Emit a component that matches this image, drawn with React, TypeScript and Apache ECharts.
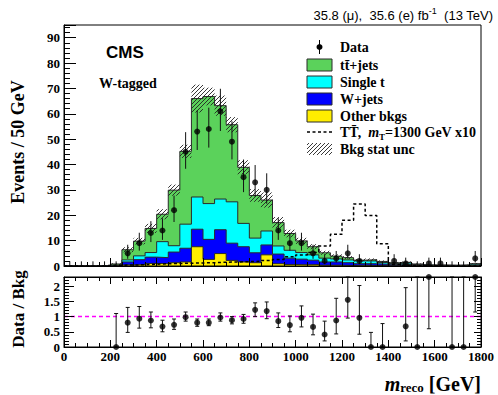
import React, { useEffect, useRef } from 'react';
import * as echarts from 'echarts';

// ---------- data (bins of 50 GeV, low edges) ----------
const binLow = [0, 50, 100, 150, 200, 250, 300, 350, 400, 450, 500, 550, 600, 650, 700, 750, 800, 850,
  900, 950, 1000, 1050, 1100, 1150, 1200, 1250, 1300, 1350, 1400, 1450, 1500, 1550, 1600, 1650, 1700, 1750];
const binWidth = 50;
const xMax = 1800;

const otherBkgs = [0, 0, 0, 0, 0.1, 0.4, 0.6, 1.0, 0.9, 1.3, 1.6, 7.6, 2.6, 4.9, 2.2, 1.6, 1.3, 4.4,
  0.9, 0.6, 0.5, 0.6, 0.3, 0.3, 0.2, 0.3, 0.2, 0.1, 0.1, 0.1, 0.05, 0.05, 0, 0, 0.05, 0.05];
const wJets = [0, 0, 0, 0.05, 0.15, 1.2, 1.9, 2.5, 2.4, 4.2, 5.4, 6.9, 7.9, 9.4, 6.8, 6.0, 3.9, 3.9,
  3.8, 2.5, 2.2, 1.7, 1.3, 1.3, 1.1, 0.6, 0.7, 0.6, 0.4, 0.5, 0.25, 0.15, 0.15, 0.1, 0.15, 0.35];
const singleT = [0, 0, 0, 0.05, 0.15, 0.8, 1.5, 1.8, 6.3, 2.5, 9.5, 12.7, 14.1, 12.1, 16.3, 9.2, 5.8, 5.5,
  3.2, 3.1, 2.6, 2.1, 1.5, 1.2, 1.1, 1.1, 1.1, 0.7, 0.5, 0.6, 0.3, 0.15, 0.15, 0.15, 0.15, 0.3];
const ttJets = [0, 0, 0, 0.1, 0.4, 4.0, 5.8, 9.5, 10.8, 21.9, 28.7, 38.8, 42.2, 36.8, 30.4, 22.1, 16.8, 12.2,
  9.2, 6.6, 4.6, 3.2, 2.1, 1.1, 0.9, 0.3, 0.5, 0.4, 0.3, 0.3, 0.2, 0.05, 0.1, 0.05, 0.05, 0.2];
const bkgStatUnc = [0, 0, 0, 0.1, 0.3, 1.0, 1.3, 1.8, 2.0, 2.2, 2.6, 5.5, 3.5, 4.0, 3.0, 2.8, 2.5, 3.0,
  2.2, 1.5, 1.2, 1.0, 0.8, 0.7, 0.6, 0.5, 0.5, 0.4, 0.3, 0.3, 0.2, 0.1, 0.1, 0.1, 0.1, 0.3];
const signalTT1300x10 = [0, 0, 0, 0.2, 0.3, 0.4, 0.5, 0.7, 0.9, 1.0, 1.1, 1.2, 1.3, 1.5, 1.6, 1.7, 1.9, 2.2,
  2.6, 3.6, 4.3, 5.3, 7.9, 12.5, 18.0, 24.4, 19.9, 8.8, 0.6, 0.2, 0.1, 0.1, 0, 0, 0, 0];

const dataCounts = [0, 0, 0, 0, 0, 5, 9, 13, 14, 22, 45, 53, 54, 61, 49, 35, 33, 30,
  14, 9, 9, 5, 2, 3, 5, 2, 0, 0, 2, 1, 0, 1, 1, 0, 0, 3];
const dataErrLo = [0, 0, 0, 0, 0, 2.16, 2.94, 3.56, 3.70, 4.66, 6.68, 7.26, 7.33, 7.79, 6.98, 5.88, 5.71, 5.45,
  3.70, 2.94, 2.94, 2.16, 1.29, 1.63, 2.16, 1.29, 0, 0, 1.29, 0.83, 0, 0.83, 0.83, 0, 0, 1.63];
const dataErrHi = [1.84, 1.84, 1.84, 1.84, 1.84, 3.38, 4.11, 4.67, 4.80, 5.76, 7.76, 8.33, 8.40, 8.86, 8.05, 6.97, 6.80, 6.54,
  4.80, 4.11, 4.11, 3.38, 2.64, 2.92, 3.38, 2.64, 1.84, 1.84, 2.64, 2.30, 1.84, 2.30, 2.30, 1.84, 1.84, 2.92];

const ratio = [null, null, null, null, 0, 0.8, 0.93, 0.87, 0.67, 0.73, 0.98, 0.8, 0.8, 0.97, 0.88, 0.92, 1.22, 1.18,
  0.85, 0.72, 0.96, 0.66, 0.41, 0.87, 1.55, 0.96, 0, 0, null, 0.68, 0, 2.3, null, 0, 0, 2.3];
const ratioLo = [null, null, null, null, 0, 0.48, 0.62, 0.63, 0.5, 0.58, 0.85, 0.68, 0.7, 0.85, 0.76, 0.78, 1.0, 0.93,
  0.64, 0.5, 0.66, 0.4, 0.2, 0.43, 0.95, 0.42, 0, 0, null, 0.2, 0, 0.6, null, 0, 0, 1.15];
const ratioHi = [null, null, null, null, 1.1, 1.3, 1.33, 1.15, 0.88, 0.92, 1.15, 0.92, 0.92, 1.12, 1.0, 1.07, 1.45, 1.48,
  1.12, 1.02, 1.35, 1.08, 0.85, 1.6, 2.3, 2.02, 0.48, 0.77, null, 1.95, 2.3, 2.3, null, 2.3, 2.3, 2.3];

const mainYTicks = { min: 0, max: 95, interval: 10 };
const ratioYTicks = { min: 0, max: 2.3, interval: 0.5 };
const xTicks = { min: 0, max: xMax, interval: 200 };

// ---------- helpers ----------
const SERIF = '"Liberation Serif", "DejaVu Serif", serif';
const SANS = '"Liberation Sans", Arial, sans-serif';
const C_TT = '#5bd25b';
const C_ST = '#00ffff';
const C_WJ = '#0000ff';
const C_OT = '#ffee00';
const OUTLINE = '#2a2a2a';
const GZ = 100;

const stepData = (vals: number[]) => [
  ...binLow.map((x, i) => [x, vals[i]]),
  [xMax, vals[vals.length - 1]],
];
const center = (i: number) => binLow[i] + binWidth / 2;

function hatchLines(L: number, T: number, R: number, B: number, s: number, color: string, z?: number) {
  const children: any[] = [];
  const cStart = Math.ceil((L + T) / s) * s;
  for (let c = cStart; c <= R + B; c += s) {
    const xa = Math.max(L, c - B);
    const xb = Math.min(R, c - T);
    if (xb - xa > 0.3) {
      const el: any = {
        type: 'line',
        shape: { x1: xa, y1: c - xa, x2: xb, y2: c - xb },
        style: { stroke: color, lineWidth: 0.9 },
      };
      if (z !== undefined) el.z = z;
      children.push(el);
    }
  }
  return children;
}

function buildOption(): any {
  // cumulative stacks (bottom to top: other, W+jets, single t, tt)
  const cumOther = binLow.map((_, i) => otherBkgs[i]);
  const cumW = binLow.map((_, i) => cumOther[i] + wJets[i]);
  const cumST = binLow.map((_, i) => cumW[i] + singleT[i]);
  const total = binLow.map((_, i) => cumST[i] + ttJets[i]);

  const hatchData = binLow
    .map((x, i) => [x, x + binWidth, Math.max(0, total[i] - bkgStatUnc[i]), total[i] + bkgStatUnc[i]])
    .filter((_, i) => bkgStatUnc[i] > 0);
  const dataErr = binLow.map((_, i) => [center(i), dataCounts[i] - dataErrLo[i], dataCounts[i] + dataErrHi[i]]);
  const dataPts = binLow.map((_, i) => [center(i), dataCounts[i]]).filter((_, i) => dataCounts[i] > 0);
  const ratioPts = binLow.map((_, i) => [center(i), ratio[i]]).filter((_, i) => ratio[i] !== null);
  const ratioErr = binLow.map((_, i) => [center(i), ratioLo[i], ratioHi[i]]).filter((_, i) => ratio[i] !== null);

  const axisLineBlack = { show: true, onZero: false, lineStyle: { color: '#000', width: 1 } };
  const labelStyle = { fontFamily: SERIF, fontWeight: 'bold', fontSize: 13, color: '#000' };

  const areaSeries = (name: string, vals: number[], color: string, z: number) => ({
    name,
    type: 'line',
    xAxisIndex: 0,
    yAxisIndex: 0,
    step: 'end',
    symbol: 'none',
    data: stepData(vals),
    lineStyle: { color: OUTLINE, width: 1 },
    areaStyle: { color, opacity: 1, origin: 'start' },
    z,
  });

  // legend graphics
  const lx = 307, lw = 25, lh = 12, tx = 340;
  const rows = [47, 65, 82, 99, 116, 132, 149];
  const legendText = (y: number, text: string) => ({
    type: 'text', x: tx, y, z: GZ,
    style: { text, fontFamily: SERIF, fontWeight: 'bold', fontSize: 14, fill: '#000', align: 'left', verticalAlign: 'middle' },
  });
  const swatch = (y: number, color: string) => ({
    type: 'rect', z: GZ, shape: { x: lx, y: y - lh / 2, width: lw, height: lh },
    style: { fill: color, stroke: OUTLINE, lineWidth: 1 },
  });

  const graphic: any[] = [
    {
      type: 'text', x: 493, y: 14, z: GZ,
      style: {
        text: '{a|35.8 (\u03bc),  35.6 (e) fb}{s|-1}{a|  (13 TeV)}',
        align: 'right', verticalAlign: 'middle',
        rich: {
          a: { fontFamily: SANS, fontSize: 13, fill: '#000', lineHeight: 16, verticalAlign: 'bottom' },
          s: { fontFamily: SANS, fontSize: 9, fill: '#000', lineHeight: 16, verticalAlign: 'top' },
        },
      },
    },
    {
      type: 'text', x: 106, y: 52, z: GZ,
      style: { text: 'CMS', fontFamily: SANS, fontWeight: 'bold', fontSize: 17, fill: '#000', align: 'left', verticalAlign: 'middle' },
    },
    {
      type: 'text', x: 99, y: 83, z: GZ,
      style: { text: 'W-tagged', fontFamily: SERIF, fontWeight: 'bold', fontSize: 14, fill: '#000', align: 'left', verticalAlign: 'middle' },
    },
    {
      type: 'text', x: 18, y: 142, rotation: Math.PI / 2, z: GZ,
      style: { text: 'Events / 50 GeV', fontFamily: SERIF, fontWeight: 'bold', fontSize: 18, fill: '#000', align: 'center', verticalAlign: 'middle' },
    },
    {
      type: 'text', x: 18, y: 309, rotation: Math.PI / 2, z: GZ,
      style: { text: 'Data / Bkg', fontFamily: SERIF, fontWeight: 'bold', fontSize: 17, fill: '#000', align: 'center', verticalAlign: 'middle' },
    },
    {
      type: 'text', x: 481, y: 384, z: GZ,
      style: {
        text: '{m|m}{r|reco}{g| [GeV]}',
        align: 'right', verticalAlign: 'middle',
        rich: {
          m: { fontFamily: SERIF, fontWeight: 'bold', fontStyle: 'italic', fontSize: 20, fill: '#000', lineHeight: 20, verticalAlign: 'middle' },
          r: { fontFamily: SERIF, fontWeight: 'bold', fontSize: 13, fill: '#000', lineHeight: 20, verticalAlign: 'bottom' },
          g: { fontFamily: SERIF, fontWeight: 'bold', fontSize: 20, fill: '#000', lineHeight: 20, verticalAlign: 'middle' },
        },
      },
    },
    // legend: Data
    { type: 'line', z: GZ, shape: { x1: lx + lw / 2, y1: rows[0] - 7, x2: lx + lw / 2, y2: rows[0] + 7 }, style: { stroke: '#000', lineWidth: 1 } },
    { type: 'circle', z: GZ, shape: { cx: lx + lw / 2, cy: rows[0], r: 3 }, style: { fill: '#000' } },
    legendText(rows[0], 'Data'),
    swatch(rows[1], C_TT), legendText(rows[1], 'tt\u0304+jets'),
    swatch(rows[2], C_ST), legendText(rows[2], 'Single t'),
    swatch(rows[3], C_WJ), legendText(rows[3], 'W+jets'),
    swatch(rows[4], C_OT), legendText(rows[4], 'Other bkgs'),
    { type: 'line', z: GZ, shape: { x1: lx, y1: rows[5], x2: lx + lw, y2: rows[5] }, style: { stroke: '#000', lineWidth: 1.5, lineDash: [3, 2.5] } },
    {
      type: 'text', x: tx, y: rows[5], z: GZ,
      style: {
        text: '{b|TT\u0304,  }{i|m}{s|T}{b|=1300 GeV x10}',
        align: 'left', verticalAlign: 'middle',
        rich: {
          b: { fontFamily: SERIF, fontWeight: 'bold', fontSize: 14, fill: '#000', lineHeight: 18, verticalAlign: 'middle' },
          i: { fontFamily: SERIF, fontWeight: 'bold', fontStyle: 'italic', fontSize: 14, fill: '#000', lineHeight: 18, verticalAlign: 'middle' },
          s: { fontFamily: SERIF, fontWeight: 'bold', fontSize: 9, fill: '#000', lineHeight: 18, verticalAlign: 'bottom' },
        },
      },
    },
    { type: 'group', z: GZ, children: hatchLines(lx, rows[6] - 6, lx + lw, rows[6] + 6, 4, '#222', GZ) },
    legendText(rows[6], 'Bkg stat unc'),
  ];

  const tickStyle = { color: '#000' };
  const xFmt = (v: number) => String(v);

  return {
    animation: false,
    backgroundColor: '#fff',
    grid: [
      { left: 64, top: 25, width: 417, height: 241, show: true, borderColor: '#000', borderWidth: 1, backgroundColor: 'transparent', z: 20 },
      { left: 64, top: 277, width: 417, height: 70, show: true, borderColor: '#000', borderWidth: 1, backgroundColor: 'transparent', z: 20 },
    ],
    xAxis: [
      {
        gridIndex: 0, type: 'value', ...xTicks, position: 'bottom', z: 20,
        axisLine: axisLineBlack,
        axisTick: { show: true, inside: true, length: 8, lineStyle: tickStyle },
        minorTick: { show: true, splitNumber: 4, length: 4, lineStyle: tickStyle },
        axisLabel: { show: false }, splitLine: { show: false },
      },
      {
        gridIndex: 1, type: 'value', ...xTicks, position: 'bottom', z: 20,
        axisLine: axisLineBlack,
        axisTick: { show: true, inside: true, length: 7, lineStyle: tickStyle },
        minorTick: { show: true, splitNumber: 4, length: 4, lineStyle: tickStyle },
        axisLabel: { ...labelStyle, margin: 3, formatter: xFmt }, splitLine: { show: false },
      },
      {
        gridIndex: 1, type: 'value', ...xTicks, position: 'top', z: 20,
        axisLine: axisLineBlack,
        axisTick: { show: true, inside: true, length: 7, lineStyle: tickStyle },
        minorTick: { show: true, splitNumber: 4, length: 4, lineStyle: tickStyle },
        axisLabel: { show: false }, splitLine: { show: false },
      },
    ],
    yAxis: [
      {
        gridIndex: 0, type: 'value', ...mainYTicks, position: 'left', z: 20,
        axisLine: axisLineBlack,
        axisTick: { show: true, inside: true, length: 12, lineStyle: tickStyle },
        minorTick: { show: true, splitNumber: 5, length: 6, lineStyle: tickStyle },
        axisLabel: { ...labelStyle, margin: 4, showMaxLabel: false }, splitLine: { show: false },
      },
      {
        gridIndex: 1, type: 'value', ...ratioYTicks, position: 'left', z: 20,
        axisLine: axisLineBlack,
        axisTick: { show: true, inside: true, length: 10, lineStyle: tickStyle },
        minorTick: { show: true, splitNumber: 5, length: 5, lineStyle: tickStyle },
        axisLabel: { ...labelStyle, margin: 4, showMaxLabel: false }, splitLine: { show: false },
      },
      {
        gridIndex: 1, type: 'value', ...ratioYTicks, position: 'right', z: 20,
        axisLine: axisLineBlack,
        axisTick: { show: true, inside: true, length: 7, lineStyle: tickStyle },
        minorTick: { show: true, splitNumber: 5, length: 4, lineStyle: tickStyle },
        axisLabel: { show: false }, splitLine: { show: false },
      },
    ],
    series: [
      areaSeries('tt+jets', total, C_TT, 2),
      areaSeries('Single t', cumST, C_ST, 3),
      areaSeries('W+jets', cumW, C_WJ, 4),
      areaSeries('Other bkgs', cumOther, C_OT, 5),
      {
        name: 'Bkg stat unc',
        type: 'custom',
        xAxisIndex: 0, yAxisIndex: 0,
        data: hatchData,
        encode: { x: [0, 1], y: [2, 3] },
        z: 6,
        renderItem: (params: any, api: any) => {
          const a = api.coord([api.value(0), api.value(3)]);
          const b = api.coord([api.value(1), api.value(2)]);
          return { type: 'group', children: hatchLines(a[0], a[1], b[0], b[1], 4, '#222') };
        },
      },
      {
        name: 'TT 1300 x10',
        type: 'line',
        xAxisIndex: 0, yAxisIndex: 0,
        step: 'end',
        symbol: 'none',
        data: stepData(signalTT1300x10),
        lineStyle: { color: '#000', width: 1.5, type: [3, 2.5] },
        z: 7,
      },
      {
        name: 'Data err',
        type: 'custom',
        xAxisIndex: 0, yAxisIndex: 0,
        data: dataErr,
        encode: { x: 0, y: [1, 2] },
        z: 8,
        renderItem: (params: any, api: any) => {
          const p1 = api.coord([api.value(0), api.value(1)]);
          const p2 = api.coord([api.value(0), api.value(2)]);
          return { type: 'line', shape: { x1: p1[0], y1: p1[1], x2: p2[0], y2: p2[1] }, style: { stroke: '#111', lineWidth: 1 } };
        },
      },
      {
        name: 'Data',
        type: 'scatter',
        xAxisIndex: 0, yAxisIndex: 0,
        data: dataPts,
        symbol: 'circle', symbolSize: 6,
        itemStyle: { color: '#000' },
        clip: false,
        z: 9,
      },
      {
        name: 'Unity',
        type: 'line',
        xAxisIndex: 1, yAxisIndex: 1,
        symbol: 'none',
        data: [[0, 1], [xMax, 1]],
        lineStyle: { color: '#ff00ff', width: 1.5, type: [4, 3] },
        z: 3,
      },
      {
        name: 'Ratio err',
        type: 'custom',
        xAxisIndex: 1, yAxisIndex: 1,
        data: ratioErr,
        encode: { x: 0, y: [1, 2] },
        z: 5,
        renderItem: (params: any, api: any) => {
          const p1 = api.coord([api.value(0), api.value(1)]);
          const p2 = api.coord([api.value(0), api.value(2)]);
          const st = { stroke: '#111', lineWidth: 1 };
          return {
            type: 'group',
            children: [
              { type: 'line', shape: { x1: p1[0], y1: p1[1], x2: p2[0], y2: p2[1] }, style: st },
              { type: 'line', shape: { x1: p1[0] - 2, y1: p1[1], x2: p1[0] + 2, y2: p1[1] }, style: st },
              { type: 'line', shape: { x1: p2[0] - 2, y1: p2[1], x2: p2[0] + 2, y2: p2[1] }, style: st },
            ],
          };
        },
      },
      {
        name: 'Ratio',
        type: 'scatter',
        xAxisIndex: 1, yAxisIndex: 1,
        data: ratioPts,
        symbol: 'circle', symbolSize: 6,
        itemStyle: { color: '#000' },
        clip: false,
        z: 6,
      },
    ],
    graphic,
  };
}

export default function App() {
  const ref = useRef<HTMLDivElement>(null);
  useEffect(() => {
    document.body.style.margin = '0';
    const chart = echarts.init(ref.current as HTMLDivElement, null, { renderer: 'svg' });
    chart.setOption(buildOption());
    return () => chart.dispose();
  }, []);
  return <div ref={ref} style={{ width: 498, height: 395 }} />;
}
